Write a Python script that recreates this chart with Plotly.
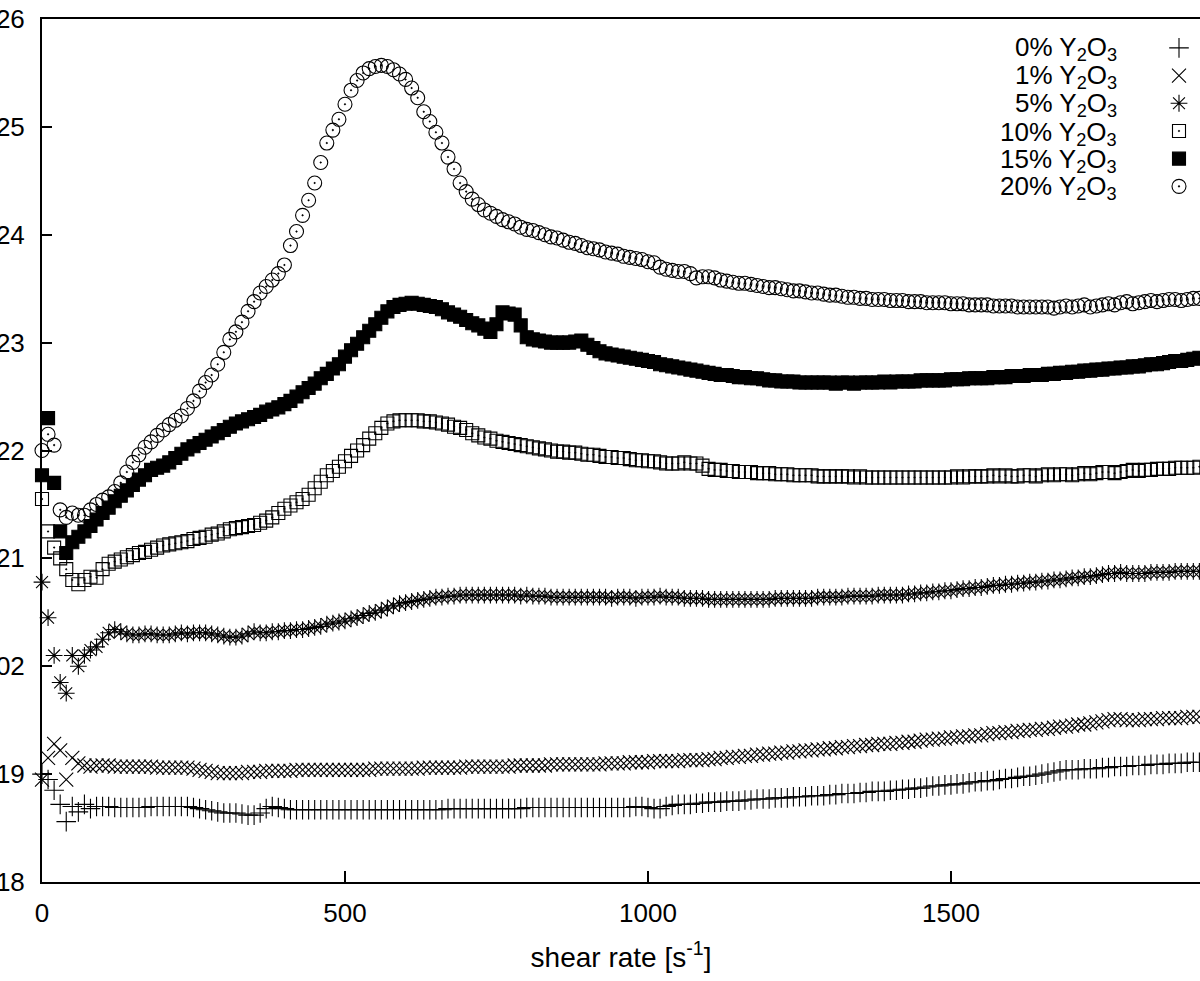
import plotly.graph_objects as go

# ---------------- data ----------------
shear_rate = [
    0, 10, 20, 30, 40, 50, 60, 70, 80, 90,
    100, 110, 120, 130, 140, 150, 160, 170, 180, 190,
    200, 210, 220, 230, 240, 250, 260, 270, 280, 290,
    300, 310, 320, 330, 340, 350, 360, 370, 380, 390,
    400, 410, 420, 430, 440, 450, 460, 470, 480, 490,
    500, 510, 520, 530, 540, 550, 560, 570, 580, 590,
    600, 610, 620, 630, 640, 650, 660, 670, 680, 690,
    700, 710, 720, 730, 740, 750, 760, 770, 780, 790,
    800, 810, 820, 830, 840, 850, 860, 870, 880, 890,
    900, 910, 920, 930, 940, 950, 960, 970, 980, 990,
    1000, 1010, 1020, 1030, 1040, 1050, 1060, 1070, 1080, 1090,
    1100, 1110, 1120, 1130, 1140, 1150, 1160, 1170, 1180, 1190,
    1200, 1210, 1220, 1230, 1240, 1250, 1260, 1270, 1280, 1290,
    1300, 1310, 1320, 1330, 1340, 1350, 1360, 1370, 1380, 1390,
    1400, 1410, 1420, 1430, 1440, 1450, 1460, 1470, 1480, 1490,
    1500, 1510, 1520, 1530, 1540, 1550, 1560, 1570, 1580, 1590,
    1600, 1610, 1620, 1630, 1640, 1650, 1660, 1670, 1680, 1690,
    1700, 1710, 1720, 1730, 1740, 1750, 1760, 1770, 1780, 1790,
    1800, 1810, 1820, 1830, 1840, 1850, 1860, 1870, 1880, 1890,
    1900, 1910,
]

y_0pct = [
    19.00, 18.95, 18.85, 18.72, 18.56, 18.70, 18.65, 18.72, 18.68, 18.70,
    18.70, 18.70, 18.69, 18.69, 18.69, 18.69, 18.69, 18.69, 18.70, 18.70,
    18.70, 18.70, 18.70, 18.70, 18.70, 18.69, 18.68, 18.67, 18.66, 18.65,
    18.64, 18.64, 18.64, 18.63, 18.62, 18.62, 18.64, 18.68, 18.70, 18.69,
    18.68, 18.67, 18.67, 18.67, 18.67, 18.67, 18.67, 18.67, 18.67, 18.67,
    18.67, 18.67, 18.67, 18.67, 18.67, 18.67, 18.67, 18.67, 18.67, 18.67,
    18.67, 18.67, 18.67, 18.67, 18.67, 18.67, 18.67, 18.68, 18.68, 18.68,
    18.68, 18.68, 18.68, 18.68, 18.68, 18.68, 18.68, 18.68, 18.68, 18.68,
    18.69, 18.69, 18.69, 18.69, 18.69, 18.69, 18.69, 18.69, 18.69, 18.69,
    18.69, 18.69, 18.69, 18.69, 18.69, 18.69, 18.69, 18.69, 18.70, 18.70,
    18.69, 18.68, 18.68, 18.70, 18.71, 18.72, 18.72, 18.72, 18.73, 18.73,
    18.74, 18.74, 18.74, 18.75, 18.75, 18.75, 18.76, 18.76, 18.77, 18.77,
    18.77, 18.78, 18.78, 18.78, 18.79, 18.79, 18.79, 18.80, 18.80, 18.80,
    18.81, 18.81, 18.82, 18.82, 18.82, 18.83, 18.83, 18.84, 18.84, 18.84,
    18.85, 18.85, 18.86, 18.86, 18.87, 18.87, 18.88, 18.89, 18.89, 18.90,
    18.90, 18.91, 18.91, 18.92, 18.93, 18.93, 18.94, 18.94, 18.95, 18.96,
    18.96, 18.97, 18.98, 18.98, 18.99, 19.00, 19.01, 19.02, 19.03, 19.04,
    19.04, 19.04, 19.05, 19.05, 19.05, 19.06, 19.06, 19.07, 19.07, 19.07,
    19.08, 19.08, 19.08, 19.09, 19.09, 19.09, 19.10, 19.10, 19.10, 19.11,
    19.11, 19.11,
]

y_1pct = [
    18.95, 19.15, 19.28, 19.22, 18.95, 19.15, 19.10, 19.08, 19.07, 19.08,
    19.08, 19.08, 19.07, 19.07, 19.07, 19.07, 19.07, 19.07, 19.07, 19.06,
    19.06, 19.06, 19.06, 19.06, 19.06, 19.05, 19.04, 19.03, 19.02, 19.01,
    19.01, 19.01, 19.01, 19.01, 19.02, 19.02, 19.02, 19.03, 19.03, 19.03,
    19.03, 19.03, 19.04, 19.04, 19.04, 19.04, 19.04, 19.04, 19.04, 19.04,
    19.04, 19.04, 19.04, 19.04, 19.04, 19.05, 19.05, 19.05, 19.05, 19.05,
    19.05, 19.05, 19.05, 19.06, 19.06, 19.06, 19.06, 19.06, 19.06, 19.06,
    19.07, 19.07, 19.07, 19.07, 19.07, 19.07, 19.07, 19.07, 19.08, 19.08,
    19.08, 19.08, 19.08, 19.08, 19.09, 19.09, 19.09, 19.09, 19.09, 19.09,
    19.09, 19.09, 19.09, 19.10, 19.10, 19.10, 19.10, 19.11, 19.11, 19.11,
    19.11, 19.12, 19.12, 19.12, 19.12, 19.12, 19.13, 19.13, 19.13, 19.13,
    19.14, 19.14, 19.15, 19.15, 19.16, 19.16, 19.17, 19.17, 19.18, 19.18,
    19.19, 19.19, 19.20, 19.20, 19.21, 19.21, 19.22, 19.22, 19.23, 19.23,
    19.24, 19.24, 19.25, 19.25, 19.26, 19.26, 19.27, 19.27, 19.28, 19.28,
    19.28, 19.29, 19.29, 19.30, 19.30, 19.31, 19.32, 19.32, 19.33, 19.33,
    19.34, 19.34, 19.35, 19.35, 19.36, 19.36, 19.37, 19.38, 19.38, 19.39,
    19.39, 19.40, 19.40, 19.41, 19.41, 19.42, 19.42, 19.43, 19.44, 19.44,
    19.45, 19.46, 19.46, 19.47, 19.48, 19.49, 19.50, 19.51, 19.51, 19.50,
    19.50, 19.50, 19.51, 19.51, 19.51, 19.52, 19.52, 19.52, 19.52, 19.53,
    19.53, 19.53,
]

y_5pct = [
    20.78, 20.45, 20.10, 19.85, 19.75, 20.10, 20.00, 20.10, 20.15, 20.18,
    20.25, 20.31, 20.34, 20.32, 20.30, 20.29, 20.29, 20.30, 20.30, 20.29,
    20.29, 20.29, 20.30, 20.31, 20.30, 20.31, 20.31, 20.31, 20.30, 20.29,
    20.28, 20.27, 20.27, 20.28, 20.30, 20.32, 20.31, 20.31, 20.32, 20.32,
    20.33, 20.33, 20.34, 20.34, 20.35, 20.36, 20.37, 20.39, 20.40, 20.41,
    20.42, 20.44, 20.45, 20.47, 20.49, 20.50, 20.52, 20.54, 20.56, 20.58,
    20.59, 20.60, 20.61, 20.62, 20.63, 20.64, 20.64, 20.65, 20.65, 20.66,
    20.66, 20.66, 20.66, 20.66, 20.66, 20.66, 20.66, 20.66, 20.66, 20.65,
    20.66, 20.65, 20.65, 20.65, 20.64, 20.64, 20.64, 20.64, 20.64, 20.64,
    20.64, 20.64, 20.64, 20.64, 20.63, 20.64, 20.64, 20.64, 20.63, 20.64,
    20.64, 20.64, 20.65, 20.64, 20.64, 20.64, 20.63, 20.63, 20.63, 20.63,
    20.62, 20.62, 20.62, 20.62, 20.62, 20.62, 20.62, 20.62, 20.62, 20.62,
    20.62, 20.63, 20.63, 20.63, 20.63, 20.63, 20.63, 20.63, 20.64, 20.64,
    20.64, 20.64, 20.64, 20.65, 20.65, 20.65, 20.65, 20.65, 20.66, 20.66,
    20.66, 20.66, 20.66, 20.67, 20.67, 20.68, 20.68, 20.69, 20.69, 20.70,
    20.70, 20.71, 20.72, 20.72, 20.73, 20.73, 20.74, 20.75, 20.75, 20.76,
    20.76, 20.77, 20.77, 20.78, 20.78, 20.79, 20.79, 20.80, 20.80, 20.81,
    20.82, 20.82, 20.83, 20.83, 20.84, 20.85, 20.86, 20.86, 20.87, 20.86,
    20.86, 20.86, 20.86, 20.87, 20.87, 20.87, 20.87, 20.88, 20.88, 20.88,
    20.88, 20.88,
]

y_10pct = [
    21.55, 21.25, 21.10, 21.00, 20.90, 20.80, 20.76, 20.80, 20.83, 20.82,
    20.90, 20.95, 20.97, 20.99, 21.01, 21.03, 21.05, 21.06, 21.08, 21.10,
    21.12, 21.13, 21.14, 21.15, 21.16, 21.18, 21.19, 21.20, 21.22, 21.23,
    21.25, 21.27, 21.28, 21.29, 21.30, 21.31, 21.33, 21.35, 21.38, 21.42,
    21.46, 21.49, 21.52, 21.55, 21.59, 21.65, 21.71, 21.77, 21.81, 21.85,
    21.90, 21.95, 22.00, 22.05, 22.11, 22.16, 22.21, 22.25, 22.27, 22.28,
    22.28, 22.28, 22.28, 22.27, 22.27, 22.26, 22.25, 22.24, 22.22, 22.21,
    22.19, 22.16, 22.14, 22.12, 22.11, 22.09, 22.08, 22.07, 22.06, 22.05,
    22.04, 22.03, 22.02, 22.01, 22.00, 21.99, 21.99, 21.98, 21.98, 21.97,
    21.96, 21.96, 21.95, 21.94, 21.94, 21.93, 21.93, 21.92, 21.91, 21.91,
    21.90, 21.90, 21.89, 21.88, 21.88, 21.88, 21.89, 21.88, 21.88, 21.86,
    21.83, 21.82, 21.82, 21.81, 21.81, 21.80, 21.80, 21.80, 21.79, 21.79,
    21.79, 21.78, 21.78, 21.78, 21.77, 21.77, 21.77, 21.77, 21.76, 21.76,
    21.76, 21.76, 21.76, 21.76, 21.75, 21.76, 21.75, 21.75, 21.75, 21.75,
    21.75, 21.75, 21.75, 21.75, 21.75, 21.75, 21.75, 21.75, 21.75, 21.75,
    21.75, 21.76, 21.75, 21.76, 21.76, 21.76, 21.76, 21.77, 21.76, 21.77,
    21.76, 21.76, 21.77, 21.77, 21.76, 21.77, 21.78, 21.77, 21.78, 21.78,
    21.77, 21.78, 21.79, 21.78, 21.79, 21.80, 21.80, 21.79, 21.80, 21.81,
    21.82, 21.81, 21.82, 21.82, 21.83, 21.83, 21.83, 21.84, 21.84, 21.84,
    21.84, 21.85,
]

y_15pct = [
    21.77, 22.30, 21.70, 21.25, 21.05, 21.15, 21.20, 21.25, 21.30, 21.36,
    21.42, 21.47, 21.53, 21.58, 21.63, 21.68, 21.73, 21.77, 21.82, 21.84,
    21.86, 21.89, 21.93, 21.97, 22.01, 22.04, 22.07, 22.10, 22.13, 22.16,
    22.19, 22.22, 22.25, 22.27, 22.29, 22.31, 22.33, 22.36, 22.38, 22.40,
    22.43, 22.46, 22.50, 22.54, 22.58, 22.62, 22.67, 22.71, 22.76, 22.80,
    22.87, 22.93, 22.99, 23.05, 23.11, 23.17, 23.23, 23.29, 23.33, 23.35,
    23.36, 23.37, 23.36, 23.35, 23.34, 23.33, 23.31, 23.28, 23.26, 23.24,
    23.21, 23.18, 23.16, 23.13, 23.10, 23.17, 23.28, 23.27, 23.26, 23.16,
    23.05, 23.03, 23.02, 23.01, 23.00, 23.00, 23.00, 23.00, 23.01, 23.02,
    22.98, 22.95, 22.92, 22.90, 22.89, 22.88, 22.87, 22.86, 22.85, 22.84,
    22.83, 22.82, 22.80, 22.79, 22.78, 22.77, 22.76, 22.75, 22.74, 22.73,
    22.72, 22.71, 22.70, 22.70, 22.69, 22.68, 22.68, 22.67, 22.67, 22.66,
    22.65, 22.65, 22.64, 22.64, 22.64, 22.63, 22.63, 22.63, 22.63, 22.63,
    22.63, 22.62, 22.63, 22.63, 22.62, 22.63, 22.63, 22.63, 22.63, 22.64,
    22.63, 22.64, 22.64, 22.64, 22.64, 22.65, 22.65, 22.65, 22.65, 22.65,
    22.66, 22.66, 22.66, 22.67, 22.67, 22.67, 22.67, 22.68, 22.68, 22.68,
    22.69, 22.69, 22.69, 22.70, 22.70, 22.70, 22.71, 22.71, 22.72, 22.72,
    22.73, 22.73, 22.74, 22.74, 22.75, 22.75, 22.76, 22.76, 22.77, 22.77,
    22.78, 22.78, 22.79, 22.80, 22.80, 22.81, 22.82, 22.83, 22.83, 22.84,
    22.85, 22.86,
]

y_20pct = [
    22.00, 22.15, 22.05, 21.45, 21.38, 21.42, 21.40, 21.40, 21.45, 21.50,
    21.54, 21.57, 21.62, 21.70, 21.80, 21.89, 21.96, 22.03, 22.08, 22.14,
    22.19, 22.24, 22.28, 22.32, 22.39, 22.46, 22.55, 22.63, 22.70, 22.80,
    22.91, 23.03, 23.10, 23.19, 23.29, 23.38, 23.46, 23.52, 23.58, 23.64,
    23.72, 23.90, 24.03, 24.18, 24.32, 24.48, 24.67, 24.85, 24.97, 25.07,
    25.21, 25.34, 25.43, 25.50, 25.54, 25.56, 25.57, 25.56, 25.53, 25.49,
    25.44, 25.36, 25.27, 25.14, 25.05, 24.95, 24.85, 24.72, 24.61, 24.48,
    24.40, 24.33, 24.28, 24.23, 24.20, 24.17, 24.14, 24.12, 24.10, 24.07,
    24.05, 24.04, 24.02, 24.00, 23.98, 23.97, 23.95, 23.93, 23.92, 23.90,
    23.88, 23.87, 23.86, 23.84, 23.83, 23.82, 23.80, 23.79, 23.78, 23.77,
    23.75, 23.74, 23.70, 23.68, 23.67, 23.66, 23.66, 23.64, 23.60, 23.61,
    23.61, 23.60, 23.58, 23.57, 23.56, 23.55, 23.55, 23.54, 23.53, 23.52,
    23.51, 23.51, 23.50, 23.49, 23.48, 23.48, 23.47, 23.46, 23.46, 23.45,
    23.44, 23.44, 23.43, 23.42, 23.42, 23.41, 23.41, 23.40, 23.40, 23.40,
    23.39, 23.39, 23.39, 23.38, 23.38, 23.38, 23.37, 23.37, 23.37, 23.37,
    23.36, 23.36, 23.36, 23.35, 23.35, 23.35, 23.35, 23.34, 23.34, 23.34,
    23.34, 23.33, 23.33, 23.33, 23.33, 23.33, 23.33, 23.32, 23.33, 23.34,
    23.33, 23.34, 23.35, 23.33, 23.34, 23.35, 23.36, 23.35, 23.37, 23.38,
    23.36, 23.37, 23.38, 23.39, 23.38, 23.39, 23.40, 23.40, 23.39, 23.40,
    23.41, 23.41,
]

series_labels = ["0% Y<sub>2</sub>O<sub>3</sub>", "1% Y<sub>2</sub>O<sub>3</sub>",
                 "5% Y<sub>2</sub>O<sub>3</sub>", "10% Y<sub>2</sub>O<sub>3</sub>",
                 "15% Y<sub>2</sub>O<sub>3</sub>", "20% Y<sub>2</sub>O<sub>3</sub>"]
series_values = [y_0pct, y_1pct, y_5pct, y_10pct, y_15pct, y_20pct]

x_tick_vals = [0, 500, 1000, 1500]
y_tick_vals = [18, 19, 20, 21, 22, 23, 24, 25, 26]
y_tick_text = ["18", "19", "02", "21", "22", "23", "24", "25", "26"]

for v in series_values:
    assert len(v) == len(shear_rate), (len(v), len(shear_rate))

# ---------------- styling ----------------
symbols = ["cross-thin-open", "x-thin-open", "asterisk-open",
           "square-open-dot", "square", "circle-open-dot"]
sizes = [14, 14, 14, 13, 13, 14]
FONT = "Liberation Sans, Arial, Helvetica, sans-serif"

fig = go.Figure()
for lab, yv, sym, sz in zip(series_labels, series_values, symbols, sizes):
    fig.add_trace(go.Scatter(
        x=shear_rate, y=yv, mode="markers", name=" ",
        cliponaxis=False,
        marker=dict(symbol=sym, size=sz, color="black",
                    line=dict(color="black", width=1.1)),
    ))

W, H = 1200, 981
ml, mr, mt, mb = 42, 0, 19, 99
pw, ph = W - ml - mr, H - mt - mb


def px_to_paper(px, py):
    return (px - ml) / pw, 1 - (py - mt) / ph


annotations = []
legend_rows = [44, 73, 101, 129, 156, 184]
for lab, py in zip(series_labels, legend_rows):
    xp, yp = px_to_paper(1119, py + 4)
    annotations.append(dict(
        x=xp, y=yp, xref="paper", yref="paper", xanchor="right", yanchor="middle",
        text=lab, showarrow=False, font=dict(family=FONT, size=26, color="black"),
    ))

lx, ly = px_to_paper(1159, 29)

fig.update_layout(
    width=W, height=H,
    margin=dict(l=ml, r=mr, t=mt, b=mb, pad=0, autoexpand=False),
    paper_bgcolor="white", plot_bgcolor="white",
    font=dict(family=FONT, size=26, color="black"),
    showlegend=True,
    legend=dict(x=lx, y=ly, xanchor="left", yanchor="top",
                bgcolor="rgba(0,0,0,0)", font=dict(family=FONT, size=19),
                itemwidth=30, tracegroupgap=0),
    annotations=annotations,
    xaxis=dict(range=[0, 1911], tickvals=x_tick_vals, ticks="inside", ticklen=11,
               tickwidth=1.5, tickcolor="black", showline=True, linecolor="black",
               linewidth=2, mirror=True, showgrid=False, zeroline=False,
               automargin=False, ticklabelstandoff=7,
               tickfont=dict(family=FONT, size=26, color="black"),
               title=dict(text="shear rate [s<sup>-1</sup>]", standoff=20,
                          font=dict(family=FONT, size=28, color="black"))),
    yaxis=dict(range=[18, 26], tickvals=y_tick_vals, ticktext=y_tick_text,
               ticks="inside", ticklen=10, tickwidth=1.5, tickcolor="black",
               showline=True, linecolor="black", linewidth=2, showgrid=False,
               zeroline=False, automargin=False, ticklabelstandoff=10,
               tickfont=dict(family=FONT, size=26, color="black")),
)

fig.write_html("out.html",
               config={"displayModeBar": False},
               post_script="document.body.style.margin='0';"
                           "document.body.style.overflow='hidden';")
